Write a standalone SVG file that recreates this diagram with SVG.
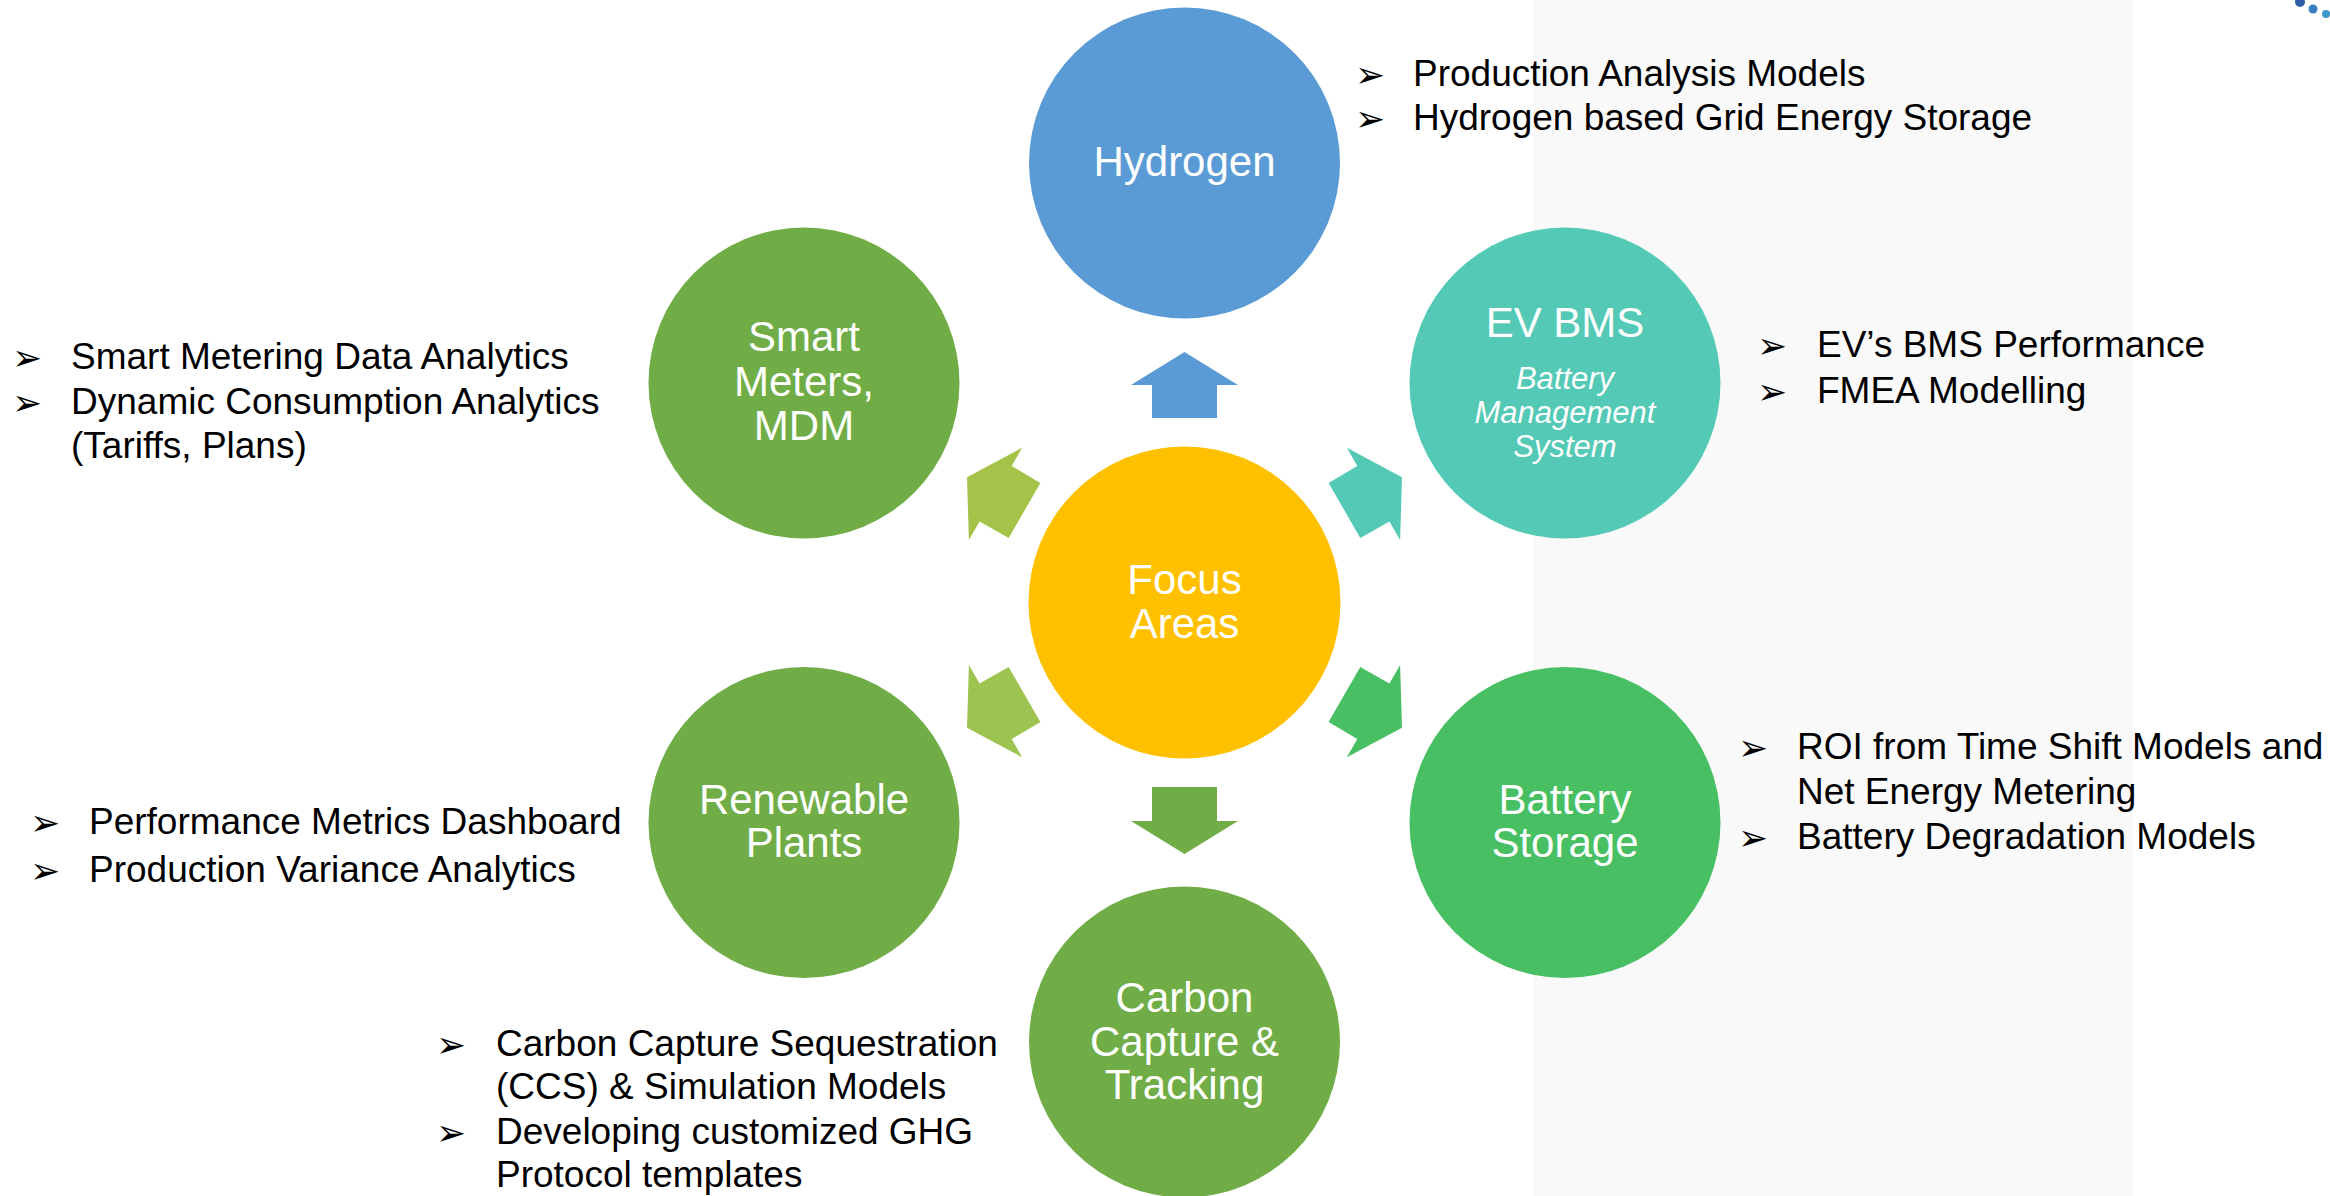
<svg xmlns="http://www.w3.org/2000/svg" width="2330" height="1196" viewBox="0 0 2330 1196">
<style>
  .lbl { font-family: "Liberation Sans", Arial, sans-serif; fill: #FFFFFF; text-anchor: middle; font-size: 42px; }
  .sub { font-family: "Liberation Sans", Arial, sans-serif; fill: #FFFFFF; text-anchor: middle; font-size: 31px; font-style: italic; }
  .bt { font-family: "Liberation Sans", Arial, sans-serif; fill: #000000; font-size: 37px; }
  .bl { font-family: "DejaVu Sans", sans-serif; fill: #000000; font-size: 36px; }
</style>
<rect x="0" y="0" width="2330" height="1196" fill="#FFFFFF"/>
<rect x="1533" y="0" width="600" height="1196" fill="#F9F9F9"/>
<g id="logo">
  <circle cx="2300" cy="2" r="5" fill="#2E5EA6"/>
  <circle cx="2313" cy="9" r="4.5" fill="#3A7DC0"/>
  <circle cx="2326" cy="14" r="4" fill="#3C96C8"/>
</g>
<g id="connectors">
  <polygon fill="#5B9BD5" points="1184.5,352 1238,385 1217,385 1217,418 1152,418 1152,385 1131,385"/>
  <polygon fill="#70AD47" points="1184.5,854 1238,821 1217,821 1217,787 1152,787 1152,821 1131,821"/>
  <polygon fill="#A5C249" points="1022.1,447.7 1011.7,466.1 1040.4,482.9 1008.7,538 979.6,521.6 968.9,540 967,477.2"/>
  <polygon fill="#53C9B6" points="1346.9,447.7 1357.3,466.1 1328.6,482.9 1360.3,538 1389.4,521.6 1400.1,540 1402,477.2"/>
  <polygon fill="#9DC350" points="1022.1,757.3 1011.7,738.9 1040.4,722.1 1008.7,667 979.6,683.4 968.9,665 967,727.8"/>
  <polygon fill="#48BF63" points="1346.9,757.3 1357.3,738.9 1328.6,722.1 1360.3,667 1389.4,683.4 1400.1,665 1402,727.8"/>
</g>
<g id="focus">
  <circle cx="1184.5" cy="602.5" r="156" fill="#FFC000"/>
  <text class="lbl" x="1184.5" y="594">Focus</text>
  <text class="lbl" x="1184.5" y="638">Areas</text>
</g>
<g id="hydrogen">
  <circle cx="1184.5" cy="163" r="155.5" fill="#5B9BD5"/>
  <text class="lbl" x="1184.5" y="176">Hydrogen</text>
  <text class="bl" x="1355" y="87">➢</text>
  <text class="bt" x="1413" y="86">Production Analysis Models</text>
  <text class="bl" x="1355" y="131">➢</text>
  <text class="bt" x="1413" y="130">Hydrogen based Grid Energy Storage</text>
</g>
<g id="smart-meters">
  <circle cx="804" cy="383" r="155.5" fill="#70AD47"/>
  <text class="lbl" x="804" y="351">Smart</text>
  <text class="lbl" x="804" y="396">Meters,</text>
  <text class="lbl" x="804" y="440">MDM</text>
  <text class="bl" x="12" y="370">➢</text>
  <text class="bt" x="71" y="369">Smart Metering Data Analytics</text>
  <text class="bl" x="12" y="415">➢</text>
  <text class="bt" x="71" y="414">Dynamic Consumption Analytics</text>
  <text class="bt" x="71" y="458">(Tariffs, Plans)</text>
</g>
<g id="ev-bms">
  <circle cx="1565" cy="383" r="155.5" fill="#53C9B6"/>
  <text class="lbl" x="1565" y="337">EV BMS</text>
  <text class="sub" x="1565" y="389">Battery</text>
  <text class="sub" x="1565" y="423">Management</text>
  <text class="sub" x="1565" y="457">System</text>
  <text class="bl" x="1757" y="358">➢</text>
  <text class="bt" x="1817" y="357">EV’s BMS Performance</text>
  <text class="bl" x="1757" y="404">➢</text>
  <text class="bt" x="1817" y="403">FMEA Modelling</text>
</g>
<g id="renewable">
  <circle cx="804" cy="822.5" r="155.5" fill="#70AD47"/>
  <text class="lbl" x="804" y="814">Renewable</text>
  <text class="lbl" x="804" y="857">Plants</text>
  <text class="bl" x="30" y="835">➢</text>
  <text class="bt" x="89" y="834">Performance Metrics Dashboard</text>
  <text class="bl" x="30" y="883">➢</text>
  <text class="bt" x="89" y="882">Production Variance Analytics</text>
</g>
<g id="battery-storage">
  <circle cx="1565" cy="822.5" r="155.5" fill="#48BF63"/>
  <text class="lbl" x="1565" y="814">Battery</text>
  <text class="lbl" x="1565" y="857">Storage</text>
  <text class="bl" x="1738" y="760">➢</text>
  <text class="bt" x="1797" y="759">ROI from Time Shift Models and</text>
  <text class="bt" x="1797" y="804">Net Energy Metering</text>
  <text class="bl" x="1738" y="850">➢</text>
  <text class="bt" x="1797" y="849">Battery Degradation Models</text>
</g>
<g id="carbon">
  <circle cx="1184.5" cy="1042" r="155.5" fill="#70AD47"/>
  <text class="lbl" x="1184.5" y="1012">Carbon</text>
  <text class="lbl" x="1184.5" y="1056">Capture &amp;</text>
  <text class="lbl" x="1184.5" y="1099">Tracking</text>
  <text class="bl" x="436" y="1057">➢</text>
  <text class="bt" x="496" y="1056">Carbon Capture Sequestration</text>
  <text class="bt" x="496" y="1099">(CCS) &amp; Simulation Models</text>
  <text class="bl" x="436" y="1145">➢</text>
  <text class="bt" x="496" y="1144">Developing customized GHG</text>
  <text class="bt" x="496" y="1187">Protocol templates</text>
</g>
</svg>
